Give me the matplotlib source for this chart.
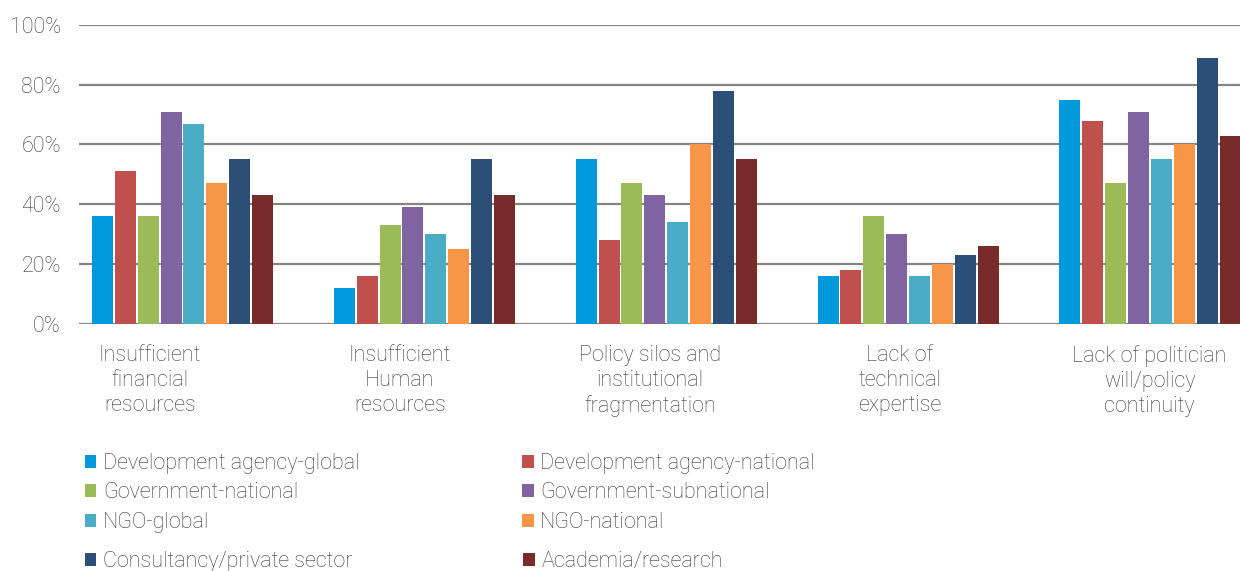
import numpy as np
import matplotlib
matplotlib.use("Agg")
import matplotlib.pyplot as plt
from matplotlib.patches import Patch

plt.rcParams['font.family'] = ['Roboto', 'DejaVu Sans']
plt.rcParams['font.weight'] = 'light'

# categories (x axis)
categories = [
    "Insufficient\nfinancial\nresources",
    "Insufficient\nHuman\nresources",
    "Policy silos and\ninstitutional\nfragmentation",
    "Lack of\ntechnical\nexpertise",
    "Lack of politician\nwill/policy\ncontinuity",
]

# series names and values (%), one value per category
series = [
    "Development agency-global",
    "Development agency-national",
    "Government-national",
    "Government-subnational",
    "NGO-global",
    "NGO-national",
    "Consultancy/private sector",
    "Academia/research",
]
dev_global = [36, 12, 55, 16, 75]
dev_national = [51, 16, 28, 18, 68]
gov_national = [36, 33, 47, 36, 47]
gov_subnational = [71, 39, 43, 30, 71]
ngo_global = [67, 30, 34, 16, 55]
ngo_national = [47, 25, 60, 20, 60]
consultancy = [55, 55, 78, 23, 89]
academia = [43, 43, 55, 26, 63]

colors = ['#0099DA', '#C0504D', '#9BBB59', '#8064A2',
          '#4BACC6', '#F79646', '#2C4F77', '#772C2A']

values = [dev_global, dev_national, gov_national, gov_subnational,
          ngo_global, ngo_national, consultancy, academia]

text_color = '#3a3a3a'
fs = 15.5

fig = plt.figure(figsize=(12.4, 5.71), dpi=100)
ax = fig.add_axes([0.0637, 0.4331, 0.9363, 0.5231])

x = np.arange(len(categories))
step = 0.0946
width = 0.0868
handles = []
for i, (name, vals, c) in enumerate(zip(series, values, colors)):
    ax.bar(x + (i - 3.5) * step, vals, width=width, color=c, zorder=3)
    handles.append(Patch(facecolor=c, label=name))

ax.set_ylim(0, 100)
ax.set_xlim(-0.428, 4.372)
ax.set_yticks(np.arange(0, 101, 20))
ax.set_yticklabels([f"{v}%" for v in range(0, 101, 20)])
ax.yaxis.grid(True, color='#858585', linewidth=1.6, zorder=0)
ax.set_axisbelow(True)
for s in ax.spines.values():
    s.set_visible(False)

# category labels sit slightly left of the bar groups in the original
label_pos = (150 + 250 * x - 182.5) / 242.0
ax.set_xticks(label_pos)
ax.set_xticklabels(categories, linespacing=1.25)
ax.tick_params(axis='both', length=0, labelsize=fs, colors=text_color)
ax.tick_params(axis='y', pad=13)
ax.tick_params(axis='x', pad=15.5)

# legend: first three rows, then the last row a bit lower (as in the original)
leg_kw = dict(ncol=2, loc='upper left', frameon=False, fontsize=fs,
              handlelength=0.55, handleheight=0.55, handletextpad=0.3,
              labelspacing=0.38, borderpad=0)
top = [0, 2, 4, 1, 3, 5]
bottom = [6, 7]
leg1 = fig.legend([handles[k] for k in top], [series[k] for k in top],
                  bbox_to_anchor=(0.0595, 0.225), columnspacing=7.55, **leg_kw)
leg2 = fig.legend([handles[k] for k in bottom], [series[k] for k in bottom],
                  bbox_to_anchor=(0.0595, 0.0545), columnspacing=7.95, **leg_kw)
for leg in (leg1, leg2):
    for t in leg.get_texts():
        t.set_color(text_color)

fig.savefig("out.png", dpi=100)
